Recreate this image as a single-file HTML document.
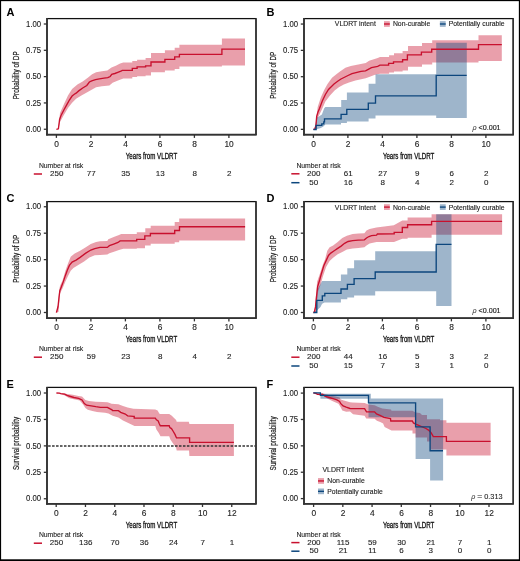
<!DOCTYPE html><html><head><meta charset="utf-8"><style>html,body{margin:0;padding:0;background:#fff;}svg{display:block;will-change:transform;}text{font-family:"Liberation Sans",sans-serif;}</style></head><body>
<svg width="520" height="561" viewBox="0 0 520 561">
<rect x="0" y="0" width="520" height="561" fill="#fff"/>
<path d="M56.40,129.30 L58.40,128.30 L60.00,113.00 L64.00,104.00 L68.00,95.40 L72.10,89.00 L77.40,84.60 L82.70,81.40 L88.10,77.40 L92.10,74.20 L96.10,72.30 L101.90,71.20 L107.30,70.50 L111.50,67.60 L115.80,65.70 L120.10,63.50 L123.30,62.50 L132.30,62.50 L132.30,61.00 L137.10,61.00 L137.10,59.70 L145.60,59.70 L145.60,58.00 L151.00,58.00 L151.00,53.00 L164.90,53.00 L164.90,50.30 L174.70,50.30 L174.70,47.70 L179.40,47.70 L179.40,44.80 L221.90,44.80 L221.90,38.40 L245.00,38.40 L245.00,65.60 L221.90,65.60 L221.90,66.60 L179.40,66.60 L179.40,68.90 L174.70,68.90 L174.70,70.50 L164.90,70.50 L164.90,72.20 L151.00,72.20 L151.00,75.50 L145.60,75.50 L145.60,76.20 L137.10,76.20 L137.10,77.10 L132.30,77.10 L132.30,78.60 L123.30,78.60 L118.00,80.60 L112.60,82.80 L109.40,85.50 L101.90,86.20 L96.10,87.30 L92.10,89.50 L86.80,92.60 L81.40,95.40 L76.10,98.80 L72.10,102.80 L68.00,108.10 L64.00,114.80 L60.00,122.00 L58.40,129.30 L56.40,129.30 Z" fill="rgba(200,16,46,0.4)"/>
<path d="M56.40,129.30 L58.40,128.80 L59.60,119.50 L61.00,115.50 L64.00,109.80 L66.70,104.90 L69.40,100.00 L72.10,96.00 L74.30,94.20 L76.10,93.20 L78.70,90.90 L82.70,88.00 L86.80,85.50 L89.40,82.00 L91.70,80.80 L95.50,79.60 L99.40,78.80 L104.00,78.10 L107.80,77.70 L110.20,76.50 L111.70,74.40 L114.80,73.50 L117.80,72.30 L120.90,71.20 L122.20,70.40 L132.30,70.40 L132.30,68.30 L137.10,68.30 L137.10,66.90 L145.60,66.90 L145.60,65.80 L151.00,65.80 L151.00,62.00 L164.90,62.00 L164.90,59.40 L174.70,59.40 L174.70,56.90 L179.40,56.90 L179.40,54.40 L221.90,54.40 L221.90,49.10 L245.00,49.10" fill="none" stroke="#c8102e" stroke-width="1.35"/>
<line x1="43.8" y1="129.25" x2="47" y2="129.25" stroke="#333333" stroke-width="1.3"/>
<text x="41.2" y="131.95" font-size="8.4" text-anchor="end" fill="#1e1e1e" font-weight="normal" textLength="15.1" lengthAdjust="spacingAndGlyphs" stroke="#1e1e1e" stroke-width="0.12">0.00</text>
<line x1="43.8" y1="102.94" x2="47" y2="102.94" stroke="#333333" stroke-width="1.3"/>
<text x="41.2" y="105.6375" font-size="8.4" text-anchor="end" fill="#1e1e1e" font-weight="normal" textLength="15.1" lengthAdjust="spacingAndGlyphs" stroke="#1e1e1e" stroke-width="0.12">0.25</text>
<line x1="43.8" y1="76.62" x2="47" y2="76.62" stroke="#333333" stroke-width="1.3"/>
<text x="41.2" y="79.325" font-size="8.4" text-anchor="end" fill="#1e1e1e" font-weight="normal" textLength="15.1" lengthAdjust="spacingAndGlyphs" stroke="#1e1e1e" stroke-width="0.12">0.50</text>
<line x1="43.8" y1="50.31" x2="47" y2="50.31" stroke="#333333" stroke-width="1.3"/>
<text x="41.2" y="53.0125" font-size="8.4" text-anchor="end" fill="#1e1e1e" font-weight="normal" textLength="15.1" lengthAdjust="spacingAndGlyphs" stroke="#1e1e1e" stroke-width="0.12">0.75</text>
<line x1="43.8" y1="24.00" x2="47" y2="24.00" stroke="#333333" stroke-width="1.3"/>
<text x="41.2" y="26.7" font-size="8.4" text-anchor="end" fill="#1e1e1e" font-weight="normal" textLength="15.1" lengthAdjust="spacingAndGlyphs" stroke="#1e1e1e" stroke-width="0.12">1.00</text>
<line x1="56.40" y1="134.7" x2="56.40" y2="137.89999999999998" stroke="#333333" stroke-width="1.3"/>
<text x="56.6" y="146.5" font-size="8.4" text-anchor="middle" fill="#1e1e1e" font-weight="normal" stroke="#1e1e1e" stroke-width="0.12">0</text>
<line x1="90.90" y1="134.7" x2="90.90" y2="137.89999999999998" stroke="#333333" stroke-width="1.3"/>
<text x="91.1" y="146.5" font-size="8.4" text-anchor="middle" fill="#1e1e1e" font-weight="normal" stroke="#1e1e1e" stroke-width="0.12">2</text>
<line x1="125.40" y1="134.7" x2="125.40" y2="137.89999999999998" stroke="#333333" stroke-width="1.3"/>
<text x="125.6" y="146.5" font-size="8.4" text-anchor="middle" fill="#1e1e1e" font-weight="normal" stroke="#1e1e1e" stroke-width="0.12">4</text>
<line x1="159.90" y1="134.7" x2="159.90" y2="137.89999999999998" stroke="#333333" stroke-width="1.3"/>
<text x="160.1" y="146.5" font-size="8.4" text-anchor="middle" fill="#1e1e1e" font-weight="normal" stroke="#1e1e1e" stroke-width="0.12">6</text>
<line x1="194.40" y1="134.7" x2="194.40" y2="137.89999999999998" stroke="#333333" stroke-width="1.3"/>
<text x="194.6" y="146.5" font-size="8.4" text-anchor="middle" fill="#1e1e1e" font-weight="normal" stroke="#1e1e1e" stroke-width="0.12">8</text>
<line x1="228.90" y1="134.7" x2="228.90" y2="137.89999999999998" stroke="#333333" stroke-width="1.3"/>
<text x="229.1" y="146.5" font-size="8.4" text-anchor="middle" fill="#1e1e1e" font-weight="normal" stroke="#1e1e1e" stroke-width="0.12">10</text>
<rect x="47" y="18.6" width="209" height="116.1" fill="none" stroke="#111" stroke-width="1.25"/>
<line x1="47" y1="18.1" x2="47" y2="135.54999999999998" stroke="#333333" stroke-width="1.7"/>
<line x1="46.15" y1="134.7" x2="256.6" y2="134.7" stroke="#333333" stroke-width="1.7"/>
<line x1="256" y1="18.6" x2="256" y2="134.7" stroke="#333333" stroke-width="1.5"/>
<text x="151.5" y="159.0" font-size="8.6" text-anchor="middle" fill="#111" font-weight="normal" textLength="51.4" lengthAdjust="spacingAndGlyphs" stroke="#111" stroke-width="0.3">Years from VLDRT</text>
<text transform="translate(18.7,75.3) rotate(-90)" x="0" y="0" font-size="8.6" text-anchor="middle" fill="#1a1a1a" stroke="#1a1a1a" stroke-width="0.2" textLength="48" lengthAdjust="spacingAndGlyphs">Probability of DP</text>
<text x="6.6" y="15.6" font-size="11" text-anchor="start" fill="#000" font-weight="bold" >A</text>
<text x="38.9" y="167.7" font-size="7.7" text-anchor="start" fill="#1e1e1e" font-weight="normal" textLength="44.4" lengthAdjust="spacingAndGlyphs" stroke="#1e1e1e" stroke-width="0.12">Number at risk</text>
<line x1="33.8" y1="174.0" x2="42.0" y2="174.0" stroke="#c8102e" stroke-width="1.5"/>
<text x="56.7" y="176.1" font-size="8.0" text-anchor="middle" fill="#1e1e1e" font-weight="normal" stroke="#1e1e1e" stroke-width="0.12">250</text>
<text x="91.2" y="176.1" font-size="8.0" text-anchor="middle" fill="#1e1e1e" font-weight="normal" stroke="#1e1e1e" stroke-width="0.12">77</text>
<text x="125.7" y="176.1" font-size="8.0" text-anchor="middle" fill="#1e1e1e" font-weight="normal" stroke="#1e1e1e" stroke-width="0.12">35</text>
<text x="160.2" y="176.1" font-size="8.0" text-anchor="middle" fill="#1e1e1e" font-weight="normal" stroke="#1e1e1e" stroke-width="0.12">13</text>
<text x="194.7" y="176.1" font-size="8.0" text-anchor="middle" fill="#1e1e1e" font-weight="normal" stroke="#1e1e1e" stroke-width="0.12">8</text>
<text x="229.2" y="176.1" font-size="8.0" text-anchor="middle" fill="#1e1e1e" font-weight="normal" stroke="#1e1e1e" stroke-width="0.12">2</text>
<path d="M313.40,129.40 L315.50,125.00 L317.70,107.00 L320.80,97.50 L324.20,90.00 L327.50,84.00 L332.00,77.80 L337.00,73.80 L340.00,71.50 L345.40,67.80 L350.80,66.10 L358.30,64.50 L365.80,62.90 L369.10,60.80 L377.70,58.10 L380.00,57.00 L389.10,57.00 L389.10,55.20 L394.00,55.20 L394.00,53.20 L402.60,53.20 L402.60,51.10 L408.00,51.10 L408.00,45.90 L422.00,45.90 L422.00,43.00 L432.20,43.00 L432.20,40.30 L478.50,40.30 L478.50,35.30 L501.80,35.30 L501.80,61.00 L478.50,61.00 L478.50,62.40 L432.20,62.40 L432.20,64.50 L422.00,64.50 L422.00,66.70 L408.00,66.70 L408.00,70.40 L402.60,70.40 L402.60,71.50 L394.00,71.50 L394.00,72.60 L389.10,72.60 L389.10,73.70 L380.00,73.70 L375.00,74.80 L370.40,76.50 L365.70,78.20 L361.10,79.20 L355.40,80.60 L349.00,82.50 L343.80,84.60 L339.20,87.00 L334.60,90.40 L330.00,95.50 L325.40,101.50 L321.90,109.50 L319.20,115.00 L317.30,118.70 L316.00,129.00 L313.40,129.40 Z" fill="rgba(200,16,46,0.4)"/>
<path d="M313.40,129.40 L315.00,129.00 L316.50,118.00 L317.30,117.50 L321.90,114.60 L324.20,108.30 L325.40,107.10 L341.20,107.10 L341.20,100.10 L346.90,100.10 L346.90,92.50 L368.60,92.50 L368.60,83.70 L375.50,83.70 L375.50,74.30 L436.20,74.30 L436.20,42.70 L466.80,42.70 L466.80,118.00 L436.20,118.00 L436.20,115.40 L375.50,115.40 L375.50,118.50 L368.60,118.50 L368.60,121.50 L346.90,121.50 L346.90,123.10 L341.00,123.10 L341.00,124.60 L325.40,124.50 L323.10,126.80 L320.80,128.00 L316.00,129.40 L313.40,129.40 Z" fill="rgba(12,70,125,0.4)"/>
<path d="M313.40,129.40 L315.00,129.10 L315.90,125.70 L316.70,116.40 L318.00,112.00 L319.60,108.30 L322.30,101.00 L325.40,94.50 L328.50,89.50 L331.50,86.50 L334.00,84.00 L338.00,81.00 L341.00,79.00 L345.00,77.00 L348.00,75.50 L352.00,73.60 L356.00,72.60 L361.00,71.30 L365.50,70.80 L368.30,69.30 L371.50,67.70 L377.70,66.40 L380.00,65.10 L388.60,65.10 L388.60,63.40 L393.50,63.40 L393.50,61.80 L402.60,61.80 L402.60,59.70 L407.40,59.70 L407.40,54.80 L421.40,54.80 L421.40,52.10 L431.70,52.10 L431.70,49.20 L478.50,49.20 L478.50,44.60 L501.80,44.60" fill="none" stroke="#c8102e" stroke-width="1.35"/>
<path d="M313.40,129.50 L316.10,129.50 L316.10,125.40 L321.80,125.40 L321.80,123.80 L323.80,123.80 L323.80,121.90 L324.50,121.90 L324.50,118.90 L341.10,118.90 L341.10,114.40 L346.80,114.40 L346.80,109.30 L368.30,109.30 L368.30,103.10 L375.50,103.10 L375.50,95.90 L436.20,95.90 L436.20,75.30 L466.70,75.30" fill="none" stroke="#0c467d" stroke-width="1.35"/>
<line x1="300.8" y1="129.35" x2="304" y2="129.35" stroke="#333333" stroke-width="1.3"/>
<text x="298.2" y="132.04999999999998" font-size="8.4" text-anchor="end" fill="#1e1e1e" font-weight="normal" textLength="15.1" lengthAdjust="spacingAndGlyphs" stroke="#1e1e1e" stroke-width="0.12">0.00</text>
<line x1="300.8" y1="103.02" x2="304" y2="103.02" stroke="#333333" stroke-width="1.3"/>
<text x="298.2" y="105.725" font-size="8.4" text-anchor="end" fill="#1e1e1e" font-weight="normal" textLength="15.1" lengthAdjust="spacingAndGlyphs" stroke="#1e1e1e" stroke-width="0.12">0.25</text>
<line x1="300.8" y1="76.70" x2="304" y2="76.70" stroke="#333333" stroke-width="1.3"/>
<text x="298.2" y="79.39999999999999" font-size="8.4" text-anchor="end" fill="#1e1e1e" font-weight="normal" textLength="15.1" lengthAdjust="spacingAndGlyphs" stroke="#1e1e1e" stroke-width="0.12">0.50</text>
<line x1="300.8" y1="50.38" x2="304" y2="50.38" stroke="#333333" stroke-width="1.3"/>
<text x="298.2" y="53.075" font-size="8.4" text-anchor="end" fill="#1e1e1e" font-weight="normal" textLength="15.1" lengthAdjust="spacingAndGlyphs" stroke="#1e1e1e" stroke-width="0.12">0.75</text>
<line x1="300.8" y1="24.05" x2="304" y2="24.05" stroke="#333333" stroke-width="1.3"/>
<text x="298.2" y="26.749999999999996" font-size="8.4" text-anchor="end" fill="#1e1e1e" font-weight="normal" textLength="15.1" lengthAdjust="spacingAndGlyphs" stroke="#1e1e1e" stroke-width="0.12">1.00</text>
<line x1="313.40" y1="134.7" x2="313.40" y2="137.89999999999998" stroke="#333333" stroke-width="1.3"/>
<text x="313.6" y="146.5" font-size="8.4" text-anchor="middle" fill="#1e1e1e" font-weight="normal" stroke="#1e1e1e" stroke-width="0.12">0</text>
<line x1="347.90" y1="134.7" x2="347.90" y2="137.89999999999998" stroke="#333333" stroke-width="1.3"/>
<text x="348.1" y="146.5" font-size="8.4" text-anchor="middle" fill="#1e1e1e" font-weight="normal" stroke="#1e1e1e" stroke-width="0.12">2</text>
<line x1="382.40" y1="134.7" x2="382.40" y2="137.89999999999998" stroke="#333333" stroke-width="1.3"/>
<text x="382.6" y="146.5" font-size="8.4" text-anchor="middle" fill="#1e1e1e" font-weight="normal" stroke="#1e1e1e" stroke-width="0.12">4</text>
<line x1="416.90" y1="134.7" x2="416.90" y2="137.89999999999998" stroke="#333333" stroke-width="1.3"/>
<text x="417.1" y="146.5" font-size="8.4" text-anchor="middle" fill="#1e1e1e" font-weight="normal" stroke="#1e1e1e" stroke-width="0.12">6</text>
<line x1="451.40" y1="134.7" x2="451.40" y2="137.89999999999998" stroke="#333333" stroke-width="1.3"/>
<text x="451.6" y="146.5" font-size="8.4" text-anchor="middle" fill="#1e1e1e" font-weight="normal" stroke="#1e1e1e" stroke-width="0.12">8</text>
<line x1="485.90" y1="134.7" x2="485.90" y2="137.89999999999998" stroke="#333333" stroke-width="1.3"/>
<text x="486.1" y="146.5" font-size="8.4" text-anchor="middle" fill="#1e1e1e" font-weight="normal" stroke="#1e1e1e" stroke-width="0.12">10</text>
<rect x="304" y="18.6" width="209.20000000000005" height="116.1" fill="none" stroke="#111" stroke-width="1.25"/>
<line x1="304" y1="18.1" x2="304" y2="135.54999999999998" stroke="#333333" stroke-width="1.7"/>
<line x1="303.15" y1="134.7" x2="513.8000000000001" y2="134.7" stroke="#333333" stroke-width="1.7"/>
<line x1="513.2" y1="18.6" x2="513.2" y2="134.7" stroke="#333333" stroke-width="1.5"/>
<text x="408.6" y="159.0" font-size="8.6" text-anchor="middle" fill="#111" font-weight="normal" textLength="51.4" lengthAdjust="spacingAndGlyphs" stroke="#111" stroke-width="0.3">Years from VLDRT</text>
<text transform="translate(276.3,75.3) rotate(-90)" x="0" y="0" font-size="8.6" text-anchor="middle" fill="#1a1a1a" stroke="#1a1a1a" stroke-width="0.2" textLength="47" lengthAdjust="spacingAndGlyphs">Probability of DP</text>
<text x="266.6" y="15.5" font-size="11" text-anchor="start" fill="#000" font-weight="bold" >B</text>
<text x="296.4" y="167.7" font-size="7.7" text-anchor="start" fill="#1e1e1e" font-weight="normal" textLength="44.4" lengthAdjust="spacingAndGlyphs" stroke="#1e1e1e" stroke-width="0.12">Number at risk</text>
<line x1="291.3" y1="173.79999999999998" x2="299.5" y2="173.79999999999998" stroke="#c8102e" stroke-width="1.5"/>
<text x="313.7" y="175.89999999999998" font-size="8.0" text-anchor="middle" fill="#1e1e1e" font-weight="normal" stroke="#1e1e1e" stroke-width="0.12">200</text>
<text x="348.2" y="175.89999999999998" font-size="8.0" text-anchor="middle" fill="#1e1e1e" font-weight="normal" stroke="#1e1e1e" stroke-width="0.12">61</text>
<text x="382.7" y="175.89999999999998" font-size="8.0" text-anchor="middle" fill="#1e1e1e" font-weight="normal" stroke="#1e1e1e" stroke-width="0.12">27</text>
<text x="417.2" y="175.89999999999998" font-size="8.0" text-anchor="middle" fill="#1e1e1e" font-weight="normal" stroke="#1e1e1e" stroke-width="0.12">9</text>
<text x="451.7" y="175.89999999999998" font-size="8.0" text-anchor="middle" fill="#1e1e1e" font-weight="normal" stroke="#1e1e1e" stroke-width="0.12">6</text>
<text x="486.2" y="175.89999999999998" font-size="8.0" text-anchor="middle" fill="#1e1e1e" font-weight="normal" stroke="#1e1e1e" stroke-width="0.12">2</text>
<line x1="291.3" y1="182.7" x2="299.5" y2="182.7" stroke="#0c467d" stroke-width="1.5"/>
<text x="313.7" y="184.79999999999998" font-size="8.0" text-anchor="middle" fill="#1e1e1e" font-weight="normal" stroke="#1e1e1e" stroke-width="0.12">50</text>
<text x="348.2" y="184.79999999999998" font-size="8.0" text-anchor="middle" fill="#1e1e1e" font-weight="normal" stroke="#1e1e1e" stroke-width="0.12">16</text>
<text x="382.7" y="184.79999999999998" font-size="8.0" text-anchor="middle" fill="#1e1e1e" font-weight="normal" stroke="#1e1e1e" stroke-width="0.12">8</text>
<text x="417.2" y="184.79999999999998" font-size="8.0" text-anchor="middle" fill="#1e1e1e" font-weight="normal" stroke="#1e1e1e" stroke-width="0.12">4</text>
<text x="451.7" y="184.79999999999998" font-size="8.0" text-anchor="middle" fill="#1e1e1e" font-weight="normal" stroke="#1e1e1e" stroke-width="0.12">2</text>
<text x="486.2" y="184.79999999999998" font-size="8.0" text-anchor="middle" fill="#1e1e1e" font-weight="normal" stroke="#1e1e1e" stroke-width="0.12">0</text>
<text x="334.8" y="26.45" font-size="7.3" text-anchor="start" fill="#222" font-weight="normal" textLength="41" lengthAdjust="spacingAndGlyphs" stroke="#222" stroke-width="0.12">VLDRT intent</text>
<rect x="384" y="21.15" width="5.8" height="5.7" fill="rgba(200,16,46,0.4)"/>
<line x1="384" y1="24.0" x2="389.8" y2="24.0" stroke="#c8102e" stroke-width="1.35"/>
<text x="392.9" y="26.45" font-size="7.3" text-anchor="start" fill="#222" font-weight="normal" textLength="37.3" lengthAdjust="spacingAndGlyphs" stroke="#222" stroke-width="0.12">Non-curable</text>
<rect x="439.9" y="21.15" width="5.8" height="5.7" fill="rgba(12,70,125,0.4)"/>
<line x1="439.9" y1="24.0" x2="445.7" y2="24.0" stroke="#0c467d" stroke-width="1.35"/>
<text x="448.7" y="26.45" font-size="7.3" text-anchor="start" fill="#222" font-weight="normal" textLength="56" lengthAdjust="spacingAndGlyphs" stroke="#222" stroke-width="0.12">Potentially curable</text>
<text x="472.4" y="129.9" font-size="7.2" fill="#222" font-style="italic">ρ</text>
<text x="478.5" y="129.9" font-size="7.2" fill="#222" stroke="#222" stroke-width="0.15" textLength="22.1" lengthAdjust="spacingAndGlyphs">&lt;0.001</text>
<path d="M56.40,312.60 L58.00,305.00 L59.20,290.00 L60.00,286.10 L62.70,280.10 L65.40,270.70 L68.00,263.40 L70.70,256.70 L74.70,253.40 L80.10,250.70 L85.40,247.40 L90.80,244.00 L96.10,242.00 L100.00,241.30 L107.30,240.90 L108.30,239.30 L113.70,236.90 L119.00,235.00 L121.20,233.90 L136.80,233.90 L136.80,232.30 L145.30,232.30 L145.30,228.30 L150.70,228.30 L150.70,225.80 L174.70,225.80 L174.70,221.90 L179.20,221.90 L179.20,218.40 L245.10,218.40 L245.10,240.40 L179.20,240.40 L179.20,242.20 L174.70,242.20 L174.70,243.70 L150.70,243.70 L150.70,245.60 L145.00,245.60 L145.00,248.30 L136.80,248.30 L136.80,248.80 L123.30,248.80 L119.00,249.90 L114.70,251.60 L109.40,253.20 L107.30,254.60 L100.00,254.90 L94.80,255.20 L89.40,257.40 L84.10,261.40 L78.70,264.70 L73.40,268.10 L70.70,270.70 L68.00,276.10 L65.40,281.40 L62.70,288.10 L60.00,293.50 L59.50,300.00 L58.50,312.00 L56.40,312.60 Z" fill="rgba(200,16,46,0.4)"/>
<path d="M56.40,312.60 L58.00,306.80 L59.00,297.50 L59.80,290.80 L61.40,286.80 L63.40,281.40 L65.40,275.40 L67.40,270.10 L69.40,265.40 L72.10,262.10 L76.10,260.10 L80.10,257.40 L85.40,253.40 L90.80,250.00 L94.80,248.70 L100.00,247.40 L107.30,247.40 L109.40,245.70 L113.70,244.10 L118.00,242.50 L120.10,240.90 L136.70,240.90 L136.70,239.40 L144.80,239.40 L144.80,235.80 L150.40,235.80 L150.40,233.50 L174.70,233.50 L174.70,230.50 L179.50,230.50 L179.50,226.70 L245.10,226.70" fill="none" stroke="#c8102e" stroke-width="1.35"/>
<line x1="43.8" y1="312.50" x2="47" y2="312.50" stroke="#333333" stroke-width="1.3"/>
<text x="41.2" y="315.2" font-size="8.4" text-anchor="end" fill="#1e1e1e" font-weight="normal" textLength="15.1" lengthAdjust="spacingAndGlyphs" stroke="#1e1e1e" stroke-width="0.12">0.00</text>
<line x1="43.8" y1="286.06" x2="47" y2="286.06" stroke="#333333" stroke-width="1.3"/>
<text x="41.2" y="288.7625" font-size="8.4" text-anchor="end" fill="#1e1e1e" font-weight="normal" textLength="15.1" lengthAdjust="spacingAndGlyphs" stroke="#1e1e1e" stroke-width="0.12">0.25</text>
<line x1="43.8" y1="259.62" x2="47" y2="259.62" stroke="#333333" stroke-width="1.3"/>
<text x="41.2" y="262.325" font-size="8.4" text-anchor="end" fill="#1e1e1e" font-weight="normal" textLength="15.1" lengthAdjust="spacingAndGlyphs" stroke="#1e1e1e" stroke-width="0.12">0.50</text>
<line x1="43.8" y1="233.19" x2="47" y2="233.19" stroke="#333333" stroke-width="1.3"/>
<text x="41.2" y="235.8875" font-size="8.4" text-anchor="end" fill="#1e1e1e" font-weight="normal" textLength="15.1" lengthAdjust="spacingAndGlyphs" stroke="#1e1e1e" stroke-width="0.12">0.75</text>
<line x1="43.8" y1="206.75" x2="47" y2="206.75" stroke="#333333" stroke-width="1.3"/>
<text x="41.2" y="209.45" font-size="8.4" text-anchor="end" fill="#1e1e1e" font-weight="normal" textLength="15.1" lengthAdjust="spacingAndGlyphs" stroke="#1e1e1e" stroke-width="0.12">1.00</text>
<line x1="56.40" y1="318.2" x2="56.40" y2="321.4" stroke="#333333" stroke-width="1.3"/>
<text x="56.6" y="329.8" font-size="8.4" text-anchor="middle" fill="#1e1e1e" font-weight="normal" stroke="#1e1e1e" stroke-width="0.12">0</text>
<line x1="90.90" y1="318.2" x2="90.90" y2="321.4" stroke="#333333" stroke-width="1.3"/>
<text x="91.1" y="329.8" font-size="8.4" text-anchor="middle" fill="#1e1e1e" font-weight="normal" stroke="#1e1e1e" stroke-width="0.12">2</text>
<line x1="125.40" y1="318.2" x2="125.40" y2="321.4" stroke="#333333" stroke-width="1.3"/>
<text x="125.6" y="329.8" font-size="8.4" text-anchor="middle" fill="#1e1e1e" font-weight="normal" stroke="#1e1e1e" stroke-width="0.12">4</text>
<line x1="159.90" y1="318.2" x2="159.90" y2="321.4" stroke="#333333" stroke-width="1.3"/>
<text x="160.1" y="329.8" font-size="8.4" text-anchor="middle" fill="#1e1e1e" font-weight="normal" stroke="#1e1e1e" stroke-width="0.12">6</text>
<line x1="194.40" y1="318.2" x2="194.40" y2="321.4" stroke="#333333" stroke-width="1.3"/>
<text x="194.6" y="329.8" font-size="8.4" text-anchor="middle" fill="#1e1e1e" font-weight="normal" stroke="#1e1e1e" stroke-width="0.12">8</text>
<line x1="228.90" y1="318.2" x2="228.90" y2="321.4" stroke="#333333" stroke-width="1.3"/>
<text x="229.1" y="329.8" font-size="8.4" text-anchor="middle" fill="#1e1e1e" font-weight="normal" stroke="#1e1e1e" stroke-width="0.12">10</text>
<rect x="47" y="201.6" width="209" height="116.6" fill="none" stroke="#111" stroke-width="1.25"/>
<line x1="47" y1="201.1" x2="47" y2="319.05" stroke="#333333" stroke-width="1.7"/>
<line x1="46.15" y1="318.2" x2="256.6" y2="318.2" stroke="#333333" stroke-width="1.7"/>
<line x1="256" y1="201.6" x2="256" y2="318.2" stroke="#333333" stroke-width="1.5"/>
<text x="151.5" y="342.4" font-size="8.6" text-anchor="middle" fill="#111" font-weight="normal" textLength="51.4" lengthAdjust="spacingAndGlyphs" stroke="#111" stroke-width="0.3">Years from VLDRT</text>
<text transform="translate(18.7,258.8) rotate(-90)" x="0" y="0" font-size="8.6" text-anchor="middle" fill="#1a1a1a" stroke="#1a1a1a" stroke-width="0.2" textLength="48" lengthAdjust="spacingAndGlyphs">Probability of DP</text>
<text x="6.6" y="201.6" font-size="11" text-anchor="start" fill="#000" font-weight="bold" >C</text>
<text x="38.9" y="351.2" font-size="7.7" text-anchor="start" fill="#1e1e1e" font-weight="normal" textLength="44.4" lengthAdjust="spacingAndGlyphs" stroke="#1e1e1e" stroke-width="0.12">Number at risk</text>
<line x1="33.8" y1="357.20000000000005" x2="42.0" y2="357.20000000000005" stroke="#c8102e" stroke-width="1.5"/>
<text x="56.7" y="359.3" font-size="8.0" text-anchor="middle" fill="#1e1e1e" font-weight="normal" stroke="#1e1e1e" stroke-width="0.12">250</text>
<text x="91.2" y="359.3" font-size="8.0" text-anchor="middle" fill="#1e1e1e" font-weight="normal" stroke="#1e1e1e" stroke-width="0.12">59</text>
<text x="125.7" y="359.3" font-size="8.0" text-anchor="middle" fill="#1e1e1e" font-weight="normal" stroke="#1e1e1e" stroke-width="0.12">23</text>
<text x="160.2" y="359.3" font-size="8.0" text-anchor="middle" fill="#1e1e1e" font-weight="normal" stroke="#1e1e1e" stroke-width="0.12">8</text>
<text x="194.7" y="359.3" font-size="8.0" text-anchor="middle" fill="#1e1e1e" font-weight="normal" stroke="#1e1e1e" stroke-width="0.12">4</text>
<text x="229.2" y="359.3" font-size="8.0" text-anchor="middle" fill="#1e1e1e" font-weight="normal" stroke="#1e1e1e" stroke-width="0.12">2</text>
<path d="M313.40,312.50 L315.00,308.00 L317.10,281.80 L319.80,273.90 L322.90,264.50 L325.00,259.40 L327.30,250.80 L329.60,247.30 L333.10,245.60 L337.70,242.10 L342.30,238.10 L346.90,235.80 L352.70,234.00 L358.40,233.50 L364.40,233.30 L366.50,230.60 L369.60,229.00 L376.40,227.50 L384.20,226.50 L393.80,225.20 L402.30,220.40 L407.60,220.40 L407.60,217.50 L431.60,217.50 L431.60,214.30 L502.10,214.30 L502.10,234.70 L431.60,234.70 L431.60,237.80 L407.60,237.80 L407.60,238.70 L402.30,238.70 L394.00,241.90 L376.50,242.00 L369.60,243.50 L366.50,245.50 L364.40,247.30 L358.40,247.90 L352.70,248.40 L346.90,249.60 L342.30,251.90 L337.70,254.20 L333.10,257.70 L329.60,261.10 L326.10,266.90 L322.70,277.00 L320.50,284.90 L318.20,291.20 L316.00,312.00 L313.40,312.50 Z" fill="rgba(200,16,46,0.4)"/>
<path d="M313.40,312.50 L316.50,312.00 L317.40,289.60 L320.50,284.10 L322.10,281.00 L340.90,281.00 L340.90,274.40 L347.30,274.40 L347.30,268.20 L354.10,268.20 L354.10,260.20 L375.20,260.20 L375.20,251.20 L436.20,251.20 L436.20,214.20 L451.50,214.20 L451.50,306.10 L436.20,306.10 L436.20,291.30 L375.20,291.30 L375.20,295.50 L354.10,295.50 L354.10,297.60 L347.30,297.60 L347.30,299.20 L340.90,299.20 L340.90,302.40 L324.50,302.40 L322.10,303.70 L320.50,306.90 L317.40,310.00 L313.40,312.50 Z" fill="rgba(12,70,125,0.4)"/>
<path d="M313.40,312.50 L314.30,312.40 L315.50,306.90 L316.60,295.90 L317.70,286.50 L319.80,279.50 L321.00,275.00 L323.80,265.70 L326.70,259.40 L328.50,255.40 L330.80,253.10 L334.20,250.80 L337.70,248.40 L341.10,246.10 L344.60,243.30 L348.10,241.50 L352.70,240.60 L358.40,240.10 L364.40,239.80 L366.50,238.00 L369.00,236.50 L371.50,235.60 L376.60,235.20 L377.40,234.00 L393.80,233.80 L394.20,233.80 L394.20,232.30 L402.30,232.30 L402.30,227.50 L407.60,227.50 L407.60,224.70 L431.60,224.70 L431.60,221.40 L502.10,221.40" fill="none" stroke="#c8102e" stroke-width="1.35"/>
<path d="M313.40,312.50 L316.80,312.50 L316.80,300.40 L322.30,300.40 L322.30,295.80 L324.80,295.80 L324.80,293.30 L341.00,293.30 L341.00,289.00 L347.40,289.00 L347.40,284.40 L354.10,284.40 L354.10,278.60 L375.20,278.60 L375.20,272.00 L436.20,272.00 L436.20,244.40 L451.50,244.40" fill="none" stroke="#0c467d" stroke-width="1.35"/>
<line x1="300.8" y1="312.50" x2="304" y2="312.50" stroke="#333333" stroke-width="1.3"/>
<text x="298.2" y="315.2" font-size="8.4" text-anchor="end" fill="#1e1e1e" font-weight="normal" textLength="15.1" lengthAdjust="spacingAndGlyphs" stroke="#1e1e1e" stroke-width="0.12">0.00</text>
<line x1="300.8" y1="286.06" x2="304" y2="286.06" stroke="#333333" stroke-width="1.3"/>
<text x="298.2" y="288.7625" font-size="8.4" text-anchor="end" fill="#1e1e1e" font-weight="normal" textLength="15.1" lengthAdjust="spacingAndGlyphs" stroke="#1e1e1e" stroke-width="0.12">0.25</text>
<line x1="300.8" y1="259.62" x2="304" y2="259.62" stroke="#333333" stroke-width="1.3"/>
<text x="298.2" y="262.325" font-size="8.4" text-anchor="end" fill="#1e1e1e" font-weight="normal" textLength="15.1" lengthAdjust="spacingAndGlyphs" stroke="#1e1e1e" stroke-width="0.12">0.50</text>
<line x1="300.8" y1="233.19" x2="304" y2="233.19" stroke="#333333" stroke-width="1.3"/>
<text x="298.2" y="235.8875" font-size="8.4" text-anchor="end" fill="#1e1e1e" font-weight="normal" textLength="15.1" lengthAdjust="spacingAndGlyphs" stroke="#1e1e1e" stroke-width="0.12">0.75</text>
<line x1="300.8" y1="206.75" x2="304" y2="206.75" stroke="#333333" stroke-width="1.3"/>
<text x="298.2" y="209.45" font-size="8.4" text-anchor="end" fill="#1e1e1e" font-weight="normal" textLength="15.1" lengthAdjust="spacingAndGlyphs" stroke="#1e1e1e" stroke-width="0.12">1.00</text>
<line x1="313.40" y1="318.2" x2="313.40" y2="321.4" stroke="#333333" stroke-width="1.3"/>
<text x="313.6" y="329.8" font-size="8.4" text-anchor="middle" fill="#1e1e1e" font-weight="normal" stroke="#1e1e1e" stroke-width="0.12">0</text>
<line x1="347.90" y1="318.2" x2="347.90" y2="321.4" stroke="#333333" stroke-width="1.3"/>
<text x="348.1" y="329.8" font-size="8.4" text-anchor="middle" fill="#1e1e1e" font-weight="normal" stroke="#1e1e1e" stroke-width="0.12">2</text>
<line x1="382.40" y1="318.2" x2="382.40" y2="321.4" stroke="#333333" stroke-width="1.3"/>
<text x="382.6" y="329.8" font-size="8.4" text-anchor="middle" fill="#1e1e1e" font-weight="normal" stroke="#1e1e1e" stroke-width="0.12">4</text>
<line x1="416.90" y1="318.2" x2="416.90" y2="321.4" stroke="#333333" stroke-width="1.3"/>
<text x="417.1" y="329.8" font-size="8.4" text-anchor="middle" fill="#1e1e1e" font-weight="normal" stroke="#1e1e1e" stroke-width="0.12">6</text>
<line x1="451.40" y1="318.2" x2="451.40" y2="321.4" stroke="#333333" stroke-width="1.3"/>
<text x="451.6" y="329.8" font-size="8.4" text-anchor="middle" fill="#1e1e1e" font-weight="normal" stroke="#1e1e1e" stroke-width="0.12">8</text>
<line x1="485.90" y1="318.2" x2="485.90" y2="321.4" stroke="#333333" stroke-width="1.3"/>
<text x="486.1" y="329.8" font-size="8.4" text-anchor="middle" fill="#1e1e1e" font-weight="normal" stroke="#1e1e1e" stroke-width="0.12">10</text>
<rect x="304" y="201.6" width="209.20000000000005" height="116.6" fill="none" stroke="#111" stroke-width="1.25"/>
<line x1="304" y1="201.1" x2="304" y2="319.05" stroke="#333333" stroke-width="1.7"/>
<line x1="303.15" y1="318.2" x2="513.8000000000001" y2="318.2" stroke="#333333" stroke-width="1.7"/>
<line x1="513.2" y1="201.6" x2="513.2" y2="318.2" stroke="#333333" stroke-width="1.5"/>
<text x="408.6" y="342.4" font-size="8.6" text-anchor="middle" fill="#111" font-weight="normal" textLength="51.4" lengthAdjust="spacingAndGlyphs" stroke="#111" stroke-width="0.3">Years from VLDRT</text>
<text transform="translate(276.3,258.8) rotate(-90)" x="0" y="0" font-size="8.6" text-anchor="middle" fill="#1a1a1a" stroke="#1a1a1a" stroke-width="0.2" textLength="47" lengthAdjust="spacingAndGlyphs">Probability of DP</text>
<text x="266.6" y="201.5" font-size="11" text-anchor="start" fill="#000" font-weight="bold" >D</text>
<text x="296.4" y="351.2" font-size="7.7" text-anchor="start" fill="#1e1e1e" font-weight="normal" textLength="44.4" lengthAdjust="spacingAndGlyphs" stroke="#1e1e1e" stroke-width="0.12">Number at risk</text>
<line x1="291.3" y1="357.20000000000005" x2="299.5" y2="357.20000000000005" stroke="#c8102e" stroke-width="1.5"/>
<text x="313.7" y="359.3" font-size="8.0" text-anchor="middle" fill="#1e1e1e" font-weight="normal" stroke="#1e1e1e" stroke-width="0.12">200</text>
<text x="348.2" y="359.3" font-size="8.0" text-anchor="middle" fill="#1e1e1e" font-weight="normal" stroke="#1e1e1e" stroke-width="0.12">44</text>
<text x="382.7" y="359.3" font-size="8.0" text-anchor="middle" fill="#1e1e1e" font-weight="normal" stroke="#1e1e1e" stroke-width="0.12">16</text>
<text x="417.2" y="359.3" font-size="8.0" text-anchor="middle" fill="#1e1e1e" font-weight="normal" stroke="#1e1e1e" stroke-width="0.12">5</text>
<text x="451.7" y="359.3" font-size="8.0" text-anchor="middle" fill="#1e1e1e" font-weight="normal" stroke="#1e1e1e" stroke-width="0.12">3</text>
<text x="486.2" y="359.3" font-size="8.0" text-anchor="middle" fill="#1e1e1e" font-weight="normal" stroke="#1e1e1e" stroke-width="0.12">2</text>
<line x1="291.3" y1="366.0" x2="299.5" y2="366.0" stroke="#0c467d" stroke-width="1.5"/>
<text x="313.7" y="368.09999999999997" font-size="8.0" text-anchor="middle" fill="#1e1e1e" font-weight="normal" stroke="#1e1e1e" stroke-width="0.12">50</text>
<text x="348.2" y="368.09999999999997" font-size="8.0" text-anchor="middle" fill="#1e1e1e" font-weight="normal" stroke="#1e1e1e" stroke-width="0.12">15</text>
<text x="382.7" y="368.09999999999997" font-size="8.0" text-anchor="middle" fill="#1e1e1e" font-weight="normal" stroke="#1e1e1e" stroke-width="0.12">7</text>
<text x="417.2" y="368.09999999999997" font-size="8.0" text-anchor="middle" fill="#1e1e1e" font-weight="normal" stroke="#1e1e1e" stroke-width="0.12">3</text>
<text x="451.7" y="368.09999999999997" font-size="8.0" text-anchor="middle" fill="#1e1e1e" font-weight="normal" stroke="#1e1e1e" stroke-width="0.12">1</text>
<text x="486.2" y="368.09999999999997" font-size="8.0" text-anchor="middle" fill="#1e1e1e" font-weight="normal" stroke="#1e1e1e" stroke-width="0.12">0</text>
<text x="334.8" y="209.54999999999998" font-size="7.3" text-anchor="start" fill="#222" font-weight="normal" textLength="41" lengthAdjust="spacingAndGlyphs" stroke="#222" stroke-width="0.12">VLDRT intent</text>
<rect x="384" y="204.25" width="5.8" height="5.7" fill="rgba(200,16,46,0.4)"/>
<line x1="384" y1="207.1" x2="389.8" y2="207.1" stroke="#c8102e" stroke-width="1.35"/>
<text x="392.9" y="209.54999999999998" font-size="7.3" text-anchor="start" fill="#222" font-weight="normal" textLength="37.3" lengthAdjust="spacingAndGlyphs" stroke="#222" stroke-width="0.12">Non-curable</text>
<rect x="439.9" y="204.25" width="5.8" height="5.7" fill="rgba(12,70,125,0.4)"/>
<line x1="439.9" y1="207.1" x2="445.7" y2="207.1" stroke="#0c467d" stroke-width="1.35"/>
<text x="448.7" y="209.54999999999998" font-size="7.3" text-anchor="start" fill="#222" font-weight="normal" textLength="56" lengthAdjust="spacingAndGlyphs" stroke="#222" stroke-width="0.12">Potentially curable</text>
<text x="472.4" y="312.9" font-size="7.2" fill="#222" font-style="italic">ρ</text>
<text x="478.5" y="312.9" font-size="7.2" fill="#222" stroke="#222" stroke-width="0.15" textLength="22.1" lengthAdjust="spacingAndGlyphs">&lt;0.001</text>
<path d="M56.40,393.00 L64.70,393.50 L67.00,394.00 L72.80,394.80 L78.50,396.00 L82.00,396.50 L85.40,400.00 L88.90,401.10 L95.80,401.70 L102.70,402.10 L107.40,402.30 L109.70,402.90 L111.50,403.70 L118.40,404.20 L123.00,406.00 L127.60,407.50 L133.40,408.80 L155.30,409.40 L157.60,410.60 L159.30,413.50 L160.00,414.00 L169.20,414.00 L171.50,415.40 L173.80,417.70 L176.10,420.00 L176.70,421.70 L188.80,421.70 L189.40,424.00 L233.90,424.00 L233.90,455.90 L189.40,455.90 L189.00,450.60 L176.70,450.60 L176.10,447.70 L172.70,443.10 L170.40,439.60 L169.20,436.30 L160.50,436.30 L158.80,433.10 L156.40,429.60 L155.30,426.10 L134.50,426.10 L128.80,423.30 L123.00,420.40 L118.40,417.50 L112.60,415.80 L108.50,413.40 L105.00,412.70 L97.00,412.10 L92.40,411.00 L87.80,409.80 L85.40,408.10 L83.10,404.60 L79.70,400.60 L75.10,399.40 L69.30,398.30 L64.70,395.40 L60.00,393.80 L56.40,393.00 Z" fill="rgba(200,16,46,0.4)"/>
<path d="M56.40,393.00 L59.50,393.10 L60.70,393.70 L64.70,394.20 L67.00,395.40 L70.50,396.50 L73.90,397.50 L78.50,398.30 L82.00,400.00 L84.30,403.50 L86.60,405.20 L91.20,405.80 L95.80,406.70 L100.40,407.30 L107.40,407.30 L109.70,408.60 L112.00,409.80 L112.60,410.60 L118.40,410.60 L120.70,412.30 L125.30,414.00 L127.60,415.80 L133.40,416.30 L134.20,416.30 L134.20,418.10 L155.30,418.10 L156.40,419.80 L158.20,421.00 L159.30,423.80 L160.30,425.70 L169.20,425.70 L169.80,427.50 L171.50,428.60 L173.30,431.50 L175.00,434.40 L176.50,437.90 L189.60,437.90 L189.60,442.30 L233.90,442.30" fill="none" stroke="#c8102e" stroke-width="1.35"/>
<line x1="48.1" y1="446" x2="255.4" y2="446" stroke="#333" stroke-width="1.3" stroke-dasharray="2.55,1.416"/>
<line x1="43.8" y1="498.75" x2="47" y2="498.75" stroke="#333333" stroke-width="1.3"/>
<text x="41.2" y="501.45" font-size="8.4" text-anchor="end" fill="#1e1e1e" font-weight="normal" textLength="15.1" lengthAdjust="spacingAndGlyphs" stroke="#1e1e1e" stroke-width="0.12">0.00</text>
<line x1="43.8" y1="472.31" x2="47" y2="472.31" stroke="#333333" stroke-width="1.3"/>
<text x="41.2" y="475.0125" font-size="8.4" text-anchor="end" fill="#1e1e1e" font-weight="normal" textLength="15.1" lengthAdjust="spacingAndGlyphs" stroke="#1e1e1e" stroke-width="0.12">0.25</text>
<line x1="43.8" y1="445.88" x2="47" y2="445.88" stroke="#333333" stroke-width="1.3"/>
<text x="41.2" y="448.575" font-size="8.4" text-anchor="end" fill="#1e1e1e" font-weight="normal" textLength="15.1" lengthAdjust="spacingAndGlyphs" stroke="#1e1e1e" stroke-width="0.12">0.50</text>
<line x1="43.8" y1="419.44" x2="47" y2="419.44" stroke="#333333" stroke-width="1.3"/>
<text x="41.2" y="422.1375" font-size="8.4" text-anchor="end" fill="#1e1e1e" font-weight="normal" textLength="15.1" lengthAdjust="spacingAndGlyphs" stroke="#1e1e1e" stroke-width="0.12">0.75</text>
<line x1="43.8" y1="393.00" x2="47" y2="393.00" stroke="#333333" stroke-width="1.3"/>
<text x="41.2" y="395.7" font-size="8.4" text-anchor="end" fill="#1e1e1e" font-weight="normal" textLength="15.1" lengthAdjust="spacingAndGlyphs" stroke="#1e1e1e" stroke-width="0.12">1.00</text>
<line x1="56.20" y1="503.8" x2="56.20" y2="507.0" stroke="#333333" stroke-width="1.3"/>
<text x="56.4" y="515.6" font-size="8.4" text-anchor="middle" fill="#1e1e1e" font-weight="normal" stroke="#1e1e1e" stroke-width="0.12">0</text>
<line x1="85.46" y1="503.8" x2="85.46" y2="507.0" stroke="#333333" stroke-width="1.3"/>
<text x="85.66" y="515.6" font-size="8.4" text-anchor="middle" fill="#1e1e1e" font-weight="normal" stroke="#1e1e1e" stroke-width="0.12">2</text>
<line x1="114.72" y1="503.8" x2="114.72" y2="507.0" stroke="#333333" stroke-width="1.3"/>
<text x="114.92" y="515.6" font-size="8.4" text-anchor="middle" fill="#1e1e1e" font-weight="normal" stroke="#1e1e1e" stroke-width="0.12">4</text>
<line x1="143.98" y1="503.8" x2="143.98" y2="507.0" stroke="#333333" stroke-width="1.3"/>
<text x="144.18" y="515.6" font-size="8.4" text-anchor="middle" fill="#1e1e1e" font-weight="normal" stroke="#1e1e1e" stroke-width="0.12">6</text>
<line x1="173.24" y1="503.8" x2="173.24" y2="507.0" stroke="#333333" stroke-width="1.3"/>
<text x="173.44" y="515.6" font-size="8.4" text-anchor="middle" fill="#1e1e1e" font-weight="normal" stroke="#1e1e1e" stroke-width="0.12">8</text>
<line x1="202.50" y1="503.8" x2="202.50" y2="507.0" stroke="#333333" stroke-width="1.3"/>
<text x="202.7" y="515.6" font-size="8.4" text-anchor="middle" fill="#1e1e1e" font-weight="normal" stroke="#1e1e1e" stroke-width="0.12">10</text>
<line x1="231.76" y1="503.8" x2="231.76" y2="507.0" stroke="#333333" stroke-width="1.3"/>
<text x="231.96" y="515.6" font-size="8.4" text-anchor="middle" fill="#1e1e1e" font-weight="normal" stroke="#1e1e1e" stroke-width="0.12">12</text>
<rect x="47" y="387.4" width="209" height="116.40000000000003" fill="none" stroke="#111" stroke-width="1.25"/>
<line x1="47" y1="386.9" x2="47" y2="504.65000000000003" stroke="#333333" stroke-width="1.7"/>
<line x1="46.15" y1="503.8" x2="256.6" y2="503.8" stroke="#333333" stroke-width="1.7"/>
<line x1="256" y1="387.4" x2="256" y2="503.8" stroke="#333333" stroke-width="1.5"/>
<text x="151.5" y="528.2" font-size="8.6" text-anchor="middle" fill="#111" font-weight="normal" textLength="51.4" lengthAdjust="spacingAndGlyphs" stroke="#111" stroke-width="0.3">Years from VLDRT</text>
<text transform="translate(18.7,443.4) rotate(-90)" x="0" y="0" font-size="8.6" text-anchor="middle" fill="#1a1a1a" stroke="#1a1a1a" stroke-width="0.2" textLength="53" lengthAdjust="spacingAndGlyphs">Survival probability</text>
<text x="6.6" y="387.6" font-size="11" text-anchor="start" fill="#000" font-weight="bold" >E</text>
<text x="38.9" y="537.0" font-size="7.7" text-anchor="start" fill="#1e1e1e" font-weight="normal" textLength="44.4" lengthAdjust="spacingAndGlyphs" stroke="#1e1e1e" stroke-width="0.12">Number at risk</text>
<line x1="33.8" y1="543.2" x2="42.0" y2="543.2" stroke="#c8102e" stroke-width="1.5"/>
<text x="56.5" y="545.3000000000001" font-size="8.0" text-anchor="middle" fill="#1e1e1e" font-weight="normal" stroke="#1e1e1e" stroke-width="0.12">250</text>
<text x="85.76" y="545.3000000000001" font-size="8.0" text-anchor="middle" fill="#1e1e1e" font-weight="normal" stroke="#1e1e1e" stroke-width="0.12">136</text>
<text x="115.02" y="545.3000000000001" font-size="8.0" text-anchor="middle" fill="#1e1e1e" font-weight="normal" stroke="#1e1e1e" stroke-width="0.12">70</text>
<text x="144.28" y="545.3000000000001" font-size="8.0" text-anchor="middle" fill="#1e1e1e" font-weight="normal" stroke="#1e1e1e" stroke-width="0.12">36</text>
<text x="173.54" y="545.3000000000001" font-size="8.0" text-anchor="middle" fill="#1e1e1e" font-weight="normal" stroke="#1e1e1e" stroke-width="0.12">24</text>
<text x="202.8" y="545.3000000000001" font-size="8.0" text-anchor="middle" fill="#1e1e1e" font-weight="normal" stroke="#1e1e1e" stroke-width="0.12">7</text>
<text x="232.06" y="545.3000000000001" font-size="8.0" text-anchor="middle" fill="#1e1e1e" font-weight="normal" stroke="#1e1e1e" stroke-width="0.12">1</text>
<path d="M313.30,392.90 L322.30,393.30 L329.20,395.20 L335.40,396.40 L339.60,397.50 L340.80,399.50 L343.80,400.60 L350.00,402.20 L352.30,402.60 L364.60,403.00 L368.50,404.50 L374.60,405.30 L377.70,406.80 L382.30,408.40 L391.00,409.50 L391.50,410.80 L412.50,410.80 L415.60,412.50 L420.00,413.00 L422.00,414.90 L427.00,415.00 L427.00,419.20 L440.00,419.20 L440.00,420.20 L446.40,420.20 L446.40,422.80 L490.60,422.80 L490.60,455.40 L446.40,455.40 L446.40,449.50 L430.10,449.50 L430.10,441.50 L427.00,441.50 L427.00,437.50 L415.60,437.50 L415.60,433.50 L412.50,433.50 L412.50,430.40 L391.50,430.40 L384.60,426.90 L383.10,423.40 L380.80,422.20 L376.90,420.70 L374.60,418.80 L366.20,418.40 L364.60,415.70 L353.10,414.20 L350.00,411.50 L346.20,411.80 L342.30,410.60 L340.80,407.50 L338.50,403.70 L332.30,401.00 L327.70,398.70 L323.10,395.60 L316.00,393.60 L313.30,392.90 Z" fill="rgba(200,16,46,0.4)"/>
<path d="M320.40,393.80 L370.80,393.80 L370.80,398.40 L443.10,398.40 L443.10,480.60 L430.10,480.60 L430.10,459.00 L415.60,459.00 L415.60,417.30 L368.50,417.30 L368.50,398.80 L320.40,398.80 Z" fill="rgba(12,70,125,0.4)"/>
<path d="M313.30,392.90 L316.20,393.50 L317.30,394.30 L322.70,394.50 L325.40,396.40 L329.20,397.50 L333.10,398.70 L336.90,399.80 L339.60,401.40 L340.80,403.70 L343.10,406.00 L346.20,407.20 L350.00,408.50 L364.60,408.60 L366.50,411.80 L374.60,411.80 L376.50,414.00 L380.00,415.40 L384.00,417.30 L390.50,418.60 L390.80,421.00 L412.30,421.00 L413.40,422.90 L416.30,424.30 L426.00,428.50 L428.50,430.10 L430.90,432.50 L433.30,436.60 L446.40,436.60 L446.40,441.30 L490.60,441.30" fill="none" stroke="#c8102e" stroke-width="1.35"/>
<path d="M313.30,392.90 L320.40,392.90 L320.40,395.30 L368.50,395.30 L368.50,402.90 L415.60,402.90 L415.60,426.90 L430.10,426.90 L430.10,450.70 L443.00,450.70" fill="none" stroke="#0c467d" stroke-width="1.35"/>
<line x1="300.8" y1="498.60" x2="304" y2="498.60" stroke="#333333" stroke-width="1.3"/>
<text x="298.2" y="501.3" font-size="8.4" text-anchor="end" fill="#1e1e1e" font-weight="normal" textLength="15.1" lengthAdjust="spacingAndGlyphs" stroke="#1e1e1e" stroke-width="0.12">0.00</text>
<line x1="300.8" y1="472.23" x2="304" y2="472.23" stroke="#333333" stroke-width="1.3"/>
<text x="298.2" y="474.925" font-size="8.4" text-anchor="end" fill="#1e1e1e" font-weight="normal" textLength="15.1" lengthAdjust="spacingAndGlyphs" stroke="#1e1e1e" stroke-width="0.12">0.25</text>
<line x1="300.8" y1="445.85" x2="304" y2="445.85" stroke="#333333" stroke-width="1.3"/>
<text x="298.2" y="448.55" font-size="8.4" text-anchor="end" fill="#1e1e1e" font-weight="normal" textLength="15.1" lengthAdjust="spacingAndGlyphs" stroke="#1e1e1e" stroke-width="0.12">0.50</text>
<line x1="300.8" y1="419.48" x2="304" y2="419.48" stroke="#333333" stroke-width="1.3"/>
<text x="298.2" y="422.175" font-size="8.4" text-anchor="end" fill="#1e1e1e" font-weight="normal" textLength="15.1" lengthAdjust="spacingAndGlyphs" stroke="#1e1e1e" stroke-width="0.12">0.75</text>
<line x1="300.8" y1="393.10" x2="304" y2="393.10" stroke="#333333" stroke-width="1.3"/>
<text x="298.2" y="395.8" font-size="8.4" text-anchor="end" fill="#1e1e1e" font-weight="normal" textLength="15.1" lengthAdjust="spacingAndGlyphs" stroke="#1e1e1e" stroke-width="0.12">1.00</text>
<line x1="313.60" y1="503.8" x2="313.60" y2="507.0" stroke="#333333" stroke-width="1.3"/>
<text x="313.8" y="515.6" font-size="8.4" text-anchor="middle" fill="#1e1e1e" font-weight="normal" stroke="#1e1e1e" stroke-width="0.12">0</text>
<line x1="342.83" y1="503.8" x2="342.83" y2="507.0" stroke="#333333" stroke-width="1.3"/>
<text x="343.03" y="515.6" font-size="8.4" text-anchor="middle" fill="#1e1e1e" font-weight="normal" stroke="#1e1e1e" stroke-width="0.12">2</text>
<line x1="372.07" y1="503.8" x2="372.07" y2="507.0" stroke="#333333" stroke-width="1.3"/>
<text x="372.27" y="515.6" font-size="8.4" text-anchor="middle" fill="#1e1e1e" font-weight="normal" stroke="#1e1e1e" stroke-width="0.12">4</text>
<line x1="401.30" y1="503.8" x2="401.30" y2="507.0" stroke="#333333" stroke-width="1.3"/>
<text x="401.5" y="515.6" font-size="8.4" text-anchor="middle" fill="#1e1e1e" font-weight="normal" stroke="#1e1e1e" stroke-width="0.12">6</text>
<line x1="430.54" y1="503.8" x2="430.54" y2="507.0" stroke="#333333" stroke-width="1.3"/>
<text x="430.74" y="515.6" font-size="8.4" text-anchor="middle" fill="#1e1e1e" font-weight="normal" stroke="#1e1e1e" stroke-width="0.12">8</text>
<line x1="459.77" y1="503.8" x2="459.77" y2="507.0" stroke="#333333" stroke-width="1.3"/>
<text x="459.97" y="515.6" font-size="8.4" text-anchor="middle" fill="#1e1e1e" font-weight="normal" stroke="#1e1e1e" stroke-width="0.12">10</text>
<line x1="489.00" y1="503.8" x2="489.00" y2="507.0" stroke="#333333" stroke-width="1.3"/>
<text x="489.2" y="515.6" font-size="8.4" text-anchor="middle" fill="#1e1e1e" font-weight="normal" stroke="#1e1e1e" stroke-width="0.12">12</text>
<rect x="304" y="387.4" width="209.20000000000005" height="116.40000000000003" fill="none" stroke="#111" stroke-width="1.25"/>
<line x1="304" y1="386.9" x2="304" y2="504.65000000000003" stroke="#333333" stroke-width="1.7"/>
<line x1="303.15" y1="503.8" x2="513.8000000000001" y2="503.8" stroke="#333333" stroke-width="1.7"/>
<line x1="513.2" y1="387.4" x2="513.2" y2="503.8" stroke="#333333" stroke-width="1.5"/>
<text x="408.6" y="528.2" font-size="8.6" text-anchor="middle" fill="#111" font-weight="normal" textLength="51.4" lengthAdjust="spacingAndGlyphs" stroke="#111" stroke-width="0.3">Years from VLDRT</text>
<text transform="translate(276.3,443.4) rotate(-90)" x="0" y="0" font-size="8.6" text-anchor="middle" fill="#1a1a1a" stroke="#1a1a1a" stroke-width="0.2" textLength="54" lengthAdjust="spacingAndGlyphs">Survival probability</text>
<text x="266.6" y="387.5" font-size="11" text-anchor="start" fill="#000" font-weight="bold" >F</text>
<text x="296.4" y="537.0" font-size="7.7" text-anchor="start" fill="#1e1e1e" font-weight="normal" textLength="44.4" lengthAdjust="spacingAndGlyphs" stroke="#1e1e1e" stroke-width="0.12">Number at risk</text>
<line x1="291.3" y1="542.6" x2="299.5" y2="542.6" stroke="#c8102e" stroke-width="1.5"/>
<text x="313.9" y="544.7" font-size="8.0" text-anchor="middle" fill="#1e1e1e" font-weight="normal" stroke="#1e1e1e" stroke-width="0.12">200</text>
<text x="343.13" y="544.7" font-size="8.0" text-anchor="middle" fill="#1e1e1e" font-weight="normal" stroke="#1e1e1e" stroke-width="0.12">115</text>
<text x="372.37" y="544.7" font-size="8.0" text-anchor="middle" fill="#1e1e1e" font-weight="normal" stroke="#1e1e1e" stroke-width="0.12">59</text>
<text x="401.6" y="544.7" font-size="8.0" text-anchor="middle" fill="#1e1e1e" font-weight="normal" stroke="#1e1e1e" stroke-width="0.12">30</text>
<text x="430.84" y="544.7" font-size="8.0" text-anchor="middle" fill="#1e1e1e" font-weight="normal" stroke="#1e1e1e" stroke-width="0.12">21</text>
<text x="460.07" y="544.7" font-size="8.0" text-anchor="middle" fill="#1e1e1e" font-weight="normal" stroke="#1e1e1e" stroke-width="0.12">7</text>
<text x="489.3" y="544.7" font-size="8.0" text-anchor="middle" fill="#1e1e1e" font-weight="normal" stroke="#1e1e1e" stroke-width="0.12">1</text>
<line x1="291.3" y1="551.2" x2="299.5" y2="551.2" stroke="#0c467d" stroke-width="1.5"/>
<text x="313.9" y="553.3000000000001" font-size="8.0" text-anchor="middle" fill="#1e1e1e" font-weight="normal" stroke="#1e1e1e" stroke-width="0.12">50</text>
<text x="343.13" y="553.3000000000001" font-size="8.0" text-anchor="middle" fill="#1e1e1e" font-weight="normal" stroke="#1e1e1e" stroke-width="0.12">21</text>
<text x="372.37" y="553.3000000000001" font-size="8.0" text-anchor="middle" fill="#1e1e1e" font-weight="normal" stroke="#1e1e1e" stroke-width="0.12">11</text>
<text x="401.6" y="553.3000000000001" font-size="8.0" text-anchor="middle" fill="#1e1e1e" font-weight="normal" stroke="#1e1e1e" stroke-width="0.12">6</text>
<text x="430.84" y="553.3000000000001" font-size="8.0" text-anchor="middle" fill="#1e1e1e" font-weight="normal" stroke="#1e1e1e" stroke-width="0.12">3</text>
<text x="460.07" y="553.3000000000001" font-size="8.0" text-anchor="middle" fill="#1e1e1e" font-weight="normal" stroke="#1e1e1e" stroke-width="0.12">0</text>
<text x="489.3" y="553.3000000000001" font-size="8.0" text-anchor="middle" fill="#1e1e1e" font-weight="normal" stroke="#1e1e1e" stroke-width="0.12">0</text>
<text x="322.4" y="472.4" font-size="7.3" text-anchor="start" fill="#222" font-weight="normal" textLength="41.5" lengthAdjust="spacingAndGlyphs" stroke="#222" stroke-width="0.12">VLDRT intent</text>
<rect x="318" y="478.1" width="6" height="5.7" fill="rgba(200,16,46,0.4)"/>
<line x1="318" y1="480.95" x2="324" y2="480.95" stroke="#c8102e" stroke-width="1.35"/>
<text x="327.3" y="483.4" font-size="7.3" text-anchor="start" fill="#222" font-weight="normal" textLength="37.4" lengthAdjust="spacingAndGlyphs" stroke="#222" stroke-width="0.12">Non-curable</text>
<rect x="318" y="488.5" width="6" height="5.7" fill="rgba(12,70,125,0.4)"/>
<line x1="318" y1="491.35" x2="324" y2="491.35" stroke="#0c467d" stroke-width="1.35"/>
<text x="327.3" y="493.8" font-size="7.3" text-anchor="start" fill="#222" font-weight="normal" textLength="55.4" lengthAdjust="spacingAndGlyphs" stroke="#222" stroke-width="0.12">Potentially curable</text>
<text x="471.2" y="498.9" font-size="7.2" fill="#222" font-style="italic">ρ</text>
<text x="477.2" y="498.9" font-size="7.2" fill="#222" stroke="#222" stroke-width="0.15" textLength="5" lengthAdjust="spacingAndGlyphs">=</text>
<text x="484.2" y="498.9" font-size="7.2" fill="#222" stroke="#222" stroke-width="0.1" textLength="18.4" lengthAdjust="spacingAndGlyphs">0.313</text>
<rect x="0" y="0" width="520" height="1.15" fill="#000"/><rect x="0" y="559.3" width="520" height="1.7" fill="#000"/><rect x="0" y="0" width="1.1" height="561" fill="#000"/><rect x="518.85" y="0" width="1.15" height="561" fill="#000"/>
</svg></body></html>
